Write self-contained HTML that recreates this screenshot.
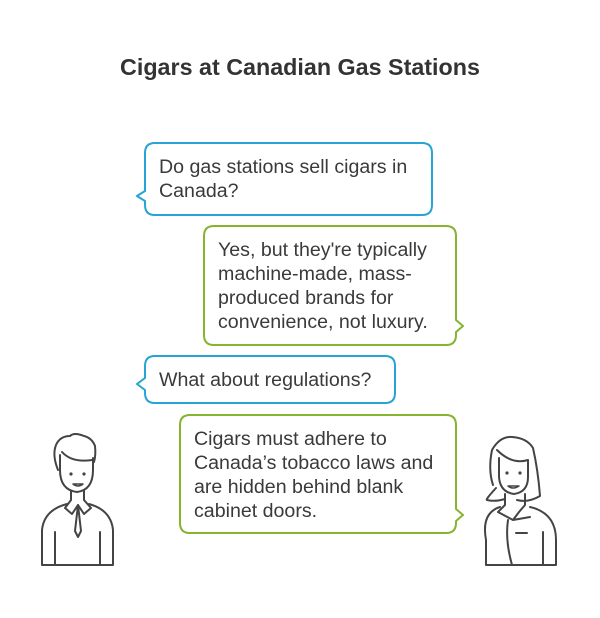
<!DOCTYPE html>
<html><head><meta charset="utf-8"><style>
body{margin:0;width:600px;height:618px;background:#fff;position:relative;font-family:"Liberation Sans",sans-serif;overflow:hidden}
.t{position:absolute;font-size:19.6px;line-height:24px;color:#3a3a3a;white-space:nowrap}
h1{position:absolute;top:54px;left:0;width:600px;text-align:center;margin:0;font-size:23.3px;color:#333;font-weight:bold}
</style></head><body>
<h1>Cigars at Canadian Gas Stations</h1>
<svg width="600" height="618" style="position:absolute;left:0;top:0" fill="none" stroke-width="2" stroke-linejoin="round" stroke-linecap="round">
<path d="M155 143 H422 Q432 143 432 153 V205 Q432 215 422 215 H155 Q145 215 145 205 V201 L137 196 L145 191 V153 Q145 143 155 143Z" stroke="#27a3d6"/>
<path d="M214 226 H446 Q456 226 456 236 V320 L463 326 L456 332 V335 Q456 345 446 345 H214 Q204 345 204 335 V236 Q204 226 214 226Z" stroke="#86b431"/>
<path d="M155 356 H385 Q395 356 395 366 V393 Q395 403 385 403 H155 Q145 403 145 393 V390 L137 384 L145 378 V366 Q145 356 155 356Z" stroke="#27a3d6"/>
<path d="M190 415 H446 Q456 415 456 425 V509 L463 515 L456 521 V523 Q456 533 446 533 H190 Q180 533 180 523 V425 Q180 415 190 415Z" stroke="#86b431"/>
<g stroke="#444" stroke-width="2">
<path d="M58 470 Q52 455 56 445 Q60 436 70 436 Q74 432 84 436 Q92 438 95 446 Q96 455 94 462 M62 452 Q72 463 92 460"/>
<path d="M60 455 V470 Q60 490 77 492 Q93 490 93 470 V458"/>
<path d="M71 491 V500 M84 491 V500 M71 500 L65 508 L72 514 L78 505 L84 514 L91 508 L84 500"/>
<path d="M78 505 L75 531 L78 537 L81 531 Z"/>
<path d="M67 504 Q44 510 42 530 V565 H113 V530 Q111 510 89 504 M55 532 V565 M100 532 V565"/>
<path d="M493 485 Q488 470 492 450 Q500 436 512 437 Q527 438 533 448 Q538 470 540 496 Q528 503 517 500 M496 488 Q485 500 487 500 Q495 502 505 499"/>
<path d="M497 450 Q512 465 528 460 V477 Q528 492 514 494 Q500 492 499 477 V458"/>
<path d="M505 494 V505 L498 512 L513 520 L519 512 L525 505 V494 M513 520 L530 517"/>
<path d="M500 507 Q481 513 486 540 V565 H556 V540 Q556 513 530 507 M508 520 Q505 540 512 565 M543 532 V565 M516 533 H527"/>
</g>
<g fill="#444" stroke="none"><circle cx="71" cy="474" r="1.6"/><circle cx="84" cy="474" r="1.6"/><circle cx="507" cy="473" r="1.6"/><circle cx="520" cy="473" r="1.6"/></g>
<path d="M73 484 Q78 488 83 484 Z" stroke="#444" stroke-width="1.5"/>
<path d="M508 486 Q513 490 519 486 Z" stroke="#444" stroke-width="1.5"/>
</svg>
<div class="t" style="left:159px;top:155px">Do gas stations sell cigars in<br>Canada?</div>
<div class="t" style="left:218px;top:238px">Yes, but they're typically<br>machine-made, mass-<br>produced brands for<br>convenience, not luxury.</div>
<div class="t" style="left:159px;top:368px">What about regulations?</div>
<div class="t" style="left:194px;top:427px">Cigars must adhere to<br>Canada’s tobacco laws and<br>are hidden behind blank<br>cabinet doors.</div>
</body></html>
